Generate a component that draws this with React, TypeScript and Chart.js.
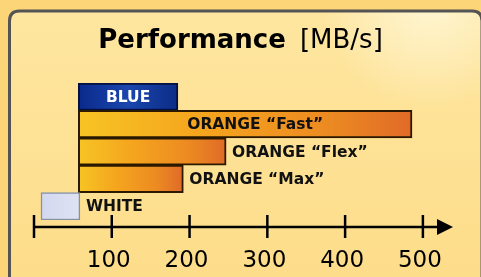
import React, { useEffect, useRef } from 'react';
import { Chart, registerables } from 'chart.js';

Chart.register(...registerables);

const categories = ['BLUE', 'ORANGE “Fast”', 'ORANGE “Flex”', 'ORANGE “Max”', 'WHITE'];
const rangeStart = [57, 57, 57, 57, 9];
const rangeEnd = [185, 486, 247, 192, 59];
const barKind = ['blue', 'orange', 'orange', 'orange', 'white'];
const labelInside = [true, true, false, false, false];
const tickValues = [100, 200, 300, 400, 500];
const axisMax = 540;
const titleBold = 'Performance';
const titleUnit = '[MB/s]';

const FONT = "'DejaVu Sans', Verdana, sans-serif";

function barFill(c: CanvasRenderingContext2D, kind: string, x0: number, x1: number) {
  if (!isFinite(x0) || !isFinite(x1)) {
    return kind === 'blue' ? '#1040a0' : kind === 'white' ? '#d8dcf0' : '#f5a61e';
  }
  const g = c.createLinearGradient(x0, 0, x1, 0);
  if (kind === 'blue') {
    g.addColorStop(0, '#0a2a8a');
    g.addColorStop(0.5, '#1a46ad');
    g.addColorStop(1, '#0c2c86');
  } else if (kind === 'white') {
    g.addColorStop(0, '#d2d8f0');
    g.addColorStop(1, '#dfe2f2');
  } else {
    g.addColorStop(0, '#f7c424');
    g.addColorStop(0.35, '#f5a61e');
    g.addColorStop(0.75, '#ec8a22');
    g.addColorStop(1, '#e06a28');
  }
  return g;
}

const backgroundPlugin = {
  id: 'bgFrame',
  beforeDraw(chart: any) {
    const c: CanvasRenderingContext2D = chart.ctx;
    const w = chart.width;
    const h = chart.height;
    c.save();
    c.fillStyle = '#fbd577';
    c.fillRect(0, 0, w, h);
    const x = 9.5, y = 11, r = 10, right = w + 1, bottom = h + 20;
    c.beginPath();
    c.moveTo(x + r, y);
    c.lineTo(right - r, y);
    c.quadraticCurveTo(right, y, right, y + r);
    c.lineTo(right, bottom);
    c.lineTo(x, bottom);
    c.lineTo(x, y + r);
    c.quadraticCurveTo(x, y, x + r, y);
    c.closePath();
    const lg = c.createLinearGradient(0, y, 0, h);
    lg.addColorStop(0, '#fee6a0');
    lg.addColorStop(1, '#fddd8a');
    c.fillStyle = lg;
    c.fill();
    const rg = c.createRadialGradient(430, 0, 5, 430, 0, 110);
    rg.addColorStop(0, 'rgba(255,250,225,0.75)');
    rg.addColorStop(1, 'rgba(255,250,225,0)');
    c.fillStyle = rg;
    c.fill();
    c.lineWidth = 3;
    c.strokeStyle = '#545454';
    c.stroke();
    c.restore();
  },
};

const overlayPlugin = {
  id: 'overlay',
  afterDraw(chart: any) {
    const c: CanvasRenderingContext2D = chart.ctx;
    const xs = chart.scales.x;
    const ys = chart.scales.y;
    const area = chart.chartArea;
    c.save();

    // axis with arrow
    const ay = area.bottom + 7;
    const x0 = xs.getPixelForValue(0);
    const tip = xs.getPixelForValue(axisMax) - 1;
    c.strokeStyle = '#000';
    c.fillStyle = '#000';
    c.lineWidth = 2.5;
    c.beginPath();
    c.moveTo(x0, ay);
    c.lineTo(tip - 14, ay);
    c.stroke();
    c.beginPath();
    c.moveTo(tip, ay);
    c.lineTo(tip - 16, ay - 8);
    c.lineTo(tip - 16, ay + 8);
    c.closePath();
    c.fill();
    [0, ...tickValues].forEach((v) => {
      const px = xs.getPixelForValue(v);
      c.beginPath();
      c.moveTo(px, ay - 12);
      c.lineTo(px, ay + 11);
      c.stroke();
    });

    // tick labels
    c.font = `23px ${FONT}`;
    c.textAlign = 'center';
    c.textBaseline = 'alphabetic';
    tickValues.forEach((v) => {
      c.fillText(String(v), xs.getPixelForValue(v) - 3, ay + 40);
    });

    // bar labels
    c.font = `bold 15.5px ${FONT}`;
    c.textBaseline = 'middle';
    categories.forEach((name, i) => {
      const yc = ys.getPixelForValue(i) + 1;
      const s = xs.getPixelForValue(rangeStart[i]);
      const e = xs.getPixelForValue(rangeEnd[i]);
      if (labelInside[i]) {
        c.textAlign = 'center';
        c.fillStyle = barKind[i] === 'blue' ? '#ffffff' : '#111111';
        c.fillText(name, (s + e) / 2 + (barKind[i] === 'blue' ? 0 : 10), yc);
      } else {
        c.textAlign = 'left';
        c.fillStyle = '#111111';
        c.fillText(name, e + 6, yc);
      }
    });

    // title
    c.textBaseline = 'alphabetic';
    c.textAlign = 'left';
    c.font = `bold 26px ${FONT}`;
    const wb = c.measureText(titleBold).width;
    c.font = `26px ${FONT}`;
    const wu = c.measureText(titleUnit).width;
    const gap = 14;
    const start = 240.5 - (wb + gap + wu) / 2;
    c.fillStyle = '#000';
    c.font = `bold 26px ${FONT}`;
    c.fillText(titleBold, start, 48);
    c.font = `26px ${FONT}`;
    c.fillText(titleUnit, start + wb + gap, 48);
    c.restore();
  },
};

export default function App() {
  const ref = useRef<HTMLCanvasElement | null>(null);
  useEffect(() => {
    if (!ref.current) return;
    const chart = new Chart(ref.current, {
      type: 'bar',
      data: {
        labels: categories,
        datasets: [
          {
            data: categories.map((_, i) => [rangeStart[i], rangeEnd[i]]) as any,
            backgroundColor: (ctx: any) => {
              const i = ctx.dataIndex;
              const xs = ctx.chart.scales && ctx.chart.scales.x;
              if (i === undefined || !xs) return '#f5a61e';
              return barFill(ctx.chart.ctx, barKind[i], xs.getPixelForValue(rangeStart[i]), xs.getPixelForValue(rangeEnd[i]));
            },
            borderColor: (ctx: any) => {
              const k = barKind[ctx.dataIndex];
              if (k === 'white') return '#8491a8';
              if (k === 'blue') return '#041040';
              return '#2a1800';
            },
            borderWidth: (ctx: any) => (barKind[ctx.dataIndex] === 'white' ? 1.5 : 2),
            borderSkipped: false,
            barPercentage: 1,
            categoryPercentage: 1,
          },
        ],
      },
      options: {
        indexAxis: 'y',
        animation: false,
        responsive: false,
        events: [],
        layout: { padding: { top: 83, left: 34, right: 27, bottom: 57 } },
        plugins: { legend: { display: false }, title: { display: false }, tooltip: { enabled: false } },
        scales: {
          x: {
            type: 'linear',
            min: 0,
            max: axisMax,
            display: false,
            afterBuildTicks: (scale: any) => {
              scale.ticks = tickValues.map((v) => ({ value: v }));
            },
          },
          y: { display: false },
        },
      },
      plugins: [backgroundPlugin, overlayPlugin],
    });
    return () => chart.destroy();
  }, []);
  return (
    <div style={{ position: 'absolute', left: 0, top: 0, width: 481, height: 277 }}>
      <canvas ref={ref} width={481} height={277} style={{ display: 'block' }} />
    </div>
  );
}
